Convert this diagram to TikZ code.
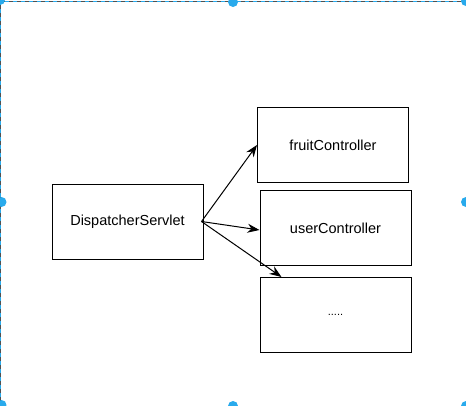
\documentclass[tikz,border=0pt]{standalone}
\usepackage{fontspec}
\setmainfont{Liberation Sans}
\usetikzlibrary{arrows.meta,positioning}

\definecolor{handleblue}{RGB}{41,170,236}
\definecolor{framegrey}{RGB}{80,80,80}

\begin{document}
\begin{tikzpicture}[
  x=1pt,y=-1pt,
  >={Stealth[length=12pt,width=9pt]},
  box/.style={draw,line width=1pt,minimum width=151pt,minimum height=75pt,
    inner sep=0pt,font=\fontsize{14.5}{17}\selectfont},
  flow/.style={->,line width=1pt},
  handle/.style={fill=handleblue,draw=none,circle,minimum size=10pt,inner sep=0pt}
]
  \useasboundingbox (0,0) rectangle (466,405);

  % selection frame
  \draw[framegrey,line width=1.5pt] (0.5,405) -- (0.5,1.5) -- (466,1.5);
  \draw[handleblue,line width=1.5pt,dash pattern=on 4pt off 4pt] (0.5,405) -- (0.5,1.5) -- (466,1.5);

  \node[box] (dispatcher) at (127.5,221.5) {DispatcherServlet};
  \node[box] (fruit) at (333,145) {fruitController};
  \node[box] (user) at (335.5,228) {userController};
  \node[box,font=\fontsize{11}{13}\selectfont] (more) at (335.5,315) {.....};

  \coordinate (fork) at ([xshift=-2pt]dispatcher.east);
  \draw[flow] (fork) -- (fruit.west);
  \draw[flow] (fork) -- ([yshift=-2pt]user.west);
  \draw[flow] (fork) -- ([xshift=-54pt]more.north);

  % handles
  \node[handle] (h1) at (0,0) {};
  \node[handle] (h2) at (233,2) {};
  \node[handle] (h3) at (466,1) {};
  \node[handle] (h4) at (1.5,202) {};
  \node[handle] (h5) at (466,202) {};
  \node[handle] (h6) at (1.5,405) {};
  \node[handle] (h7) at (233,406) {};
  \node[handle] (h8) at (466,406) {};
\end{tikzpicture}
\end{document}
